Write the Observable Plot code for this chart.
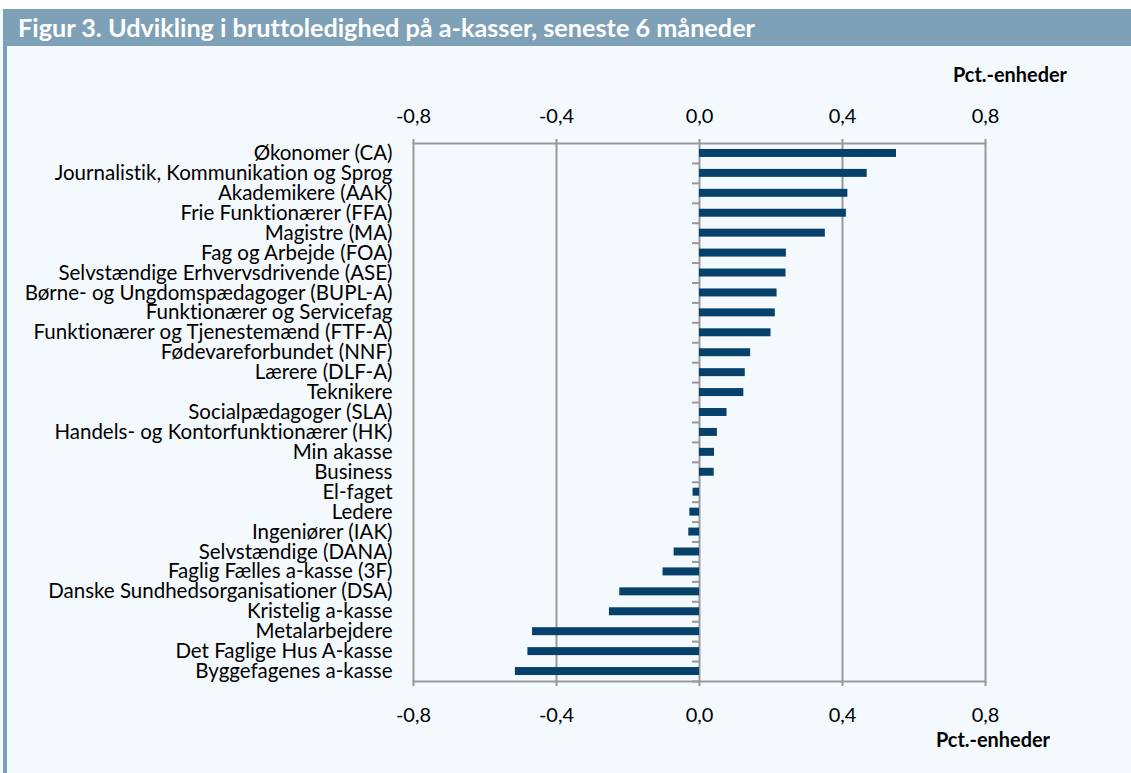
<!DOCTYPE html>
<html>
<head>
<meta charset="utf-8">
<script src="https://cdn.jsdelivr.net/npm/d3@7"></script>
<script src="https://cdn.jsdelivr.net/npm/@observablehq/plot@0.6"></script>
<style>
  html, body { margin: 0; padding: 0; }
  body { width: 1131px; height: 773px; position: relative; background: #F4F9FD; overflow: hidden; font-family: Lato, "Open Sans", sans-serif; font-variant-ligatures: none; }
  #topwhite { position: absolute; left: 0; top: 0; width: 1131px; height: 9px; background: #fff; }
  #titlebar { position: absolute; left: 3px; top: 9px; width: 1128px; height: 37px; background: #7EA1B7; }
  #title { position: absolute; left: 18px; top: 9px; height: 37px; line-height: 37px; color: #fff; font-weight: bold; font-size: 24px; white-space: nowrap; transform-origin: left center; }
  #leftbar { position: absolute; left: 3px; top: 9px; width: 4px; height: 764px; background: #7EA1B7; }
  #chart { position: absolute; left: 0; top: 0; }
  #chart svg text { font-variant-ligatures: none; }
  .unit { position: absolute; font-weight: bold; font-size: 20px; line-height: 20px; color: #000; white-space: nowrap; transform-origin: left center; }
</style>
</head>
<body>
<div id="topwhite"></div>
<div id="titlebar"></div>
<div id="leftbar"></div>
<div id="title">Figur 3. Udvikling i bruttoledighed på a-kasser, seneste 6 måneder</div>
<div id="chart"></div>
<div class="unit" id="unitTop" style="left:953px; top:64px;">Pct.-enheder</div>
<div class="unit" id="unitBottom" style="left:936px; top:729px;">Pct.-enheder</div>
<script>
const categories = [
  "Økonomer (CA)",
  "Journalistik, Kommunikation og Sprog",
  "Akademikere (AAK)",
  "Frie Funktionærer (FFA)",
  "Magistre (MA)",
  "Fag og Arbejde (FOA)",
  "Selvstændige Erhvervsdrivende (ASE)",
  "Børne- og Ungdomspædagoger (BUPL-A)",
  "Funktionærer og Servicefag",
  "Funktionærer og Tjenestemænd (FTF-A)",
  "Fødevareforbundet (NNF)",
  "Lærere (DLF-A)",
  "Teknikere",
  "Socialpædagoger (SLA)",
  "Handels- og Kontorfunktionærer (HK)",
  "Min akasse",
  "Business",
  "El-faget",
  "Ledere",
  "Ingeniører (IAK)",
  "Selvstændige (DANA)",
  "Faglig Fælles a-kasse (3F)",
  "Danske Sundhedsorganisationer (DSA)",
  "Kristelig a-kasse",
  "Metalarbejdere",
  "Det Faglige Hus A-kasse",
  "Byggefagenes a-kasse"
];
const values = [
  0.551, 0.469, 0.415, 0.411, 0.352, 0.243, 0.242, 0.217, 0.212, 0.200,
  0.143, 0.128, 0.124, 0.077, 0.050, 0.042, 0.041,
  -0.018, -0.027, -0.030, -0.071, -0.102, -0.223, -0.252, -0.467, -0.480, -0.515
];
const xTicks = [-0.8, -0.4, 0.0, 0.4, 0.8];
const gridValues = [-0.4, 0.0, 0.4];

const data = categories.map((name, i) => ({name, value: values[i]}));
const fmt = d => d.toFixed(1).replace(".", ",").replace("-0,0", "0,0");

const plot = Plot.plot({
  width: 1131,
  height: 773,
  marginTop: 143,
  marginBottom: 92,
  marginLeft: 413,
  marginRight: 146,
  style: {background: "transparent", fontFamily: "Lato, 'Open Sans', sans-serif", color: "#000"},
  x: {domain: [-0.8, 0.8]},
  y: {domain: categories, paddingInner: 0.6, paddingOuter: 0.3, round: false},
  marks: [
    Plot.ruleX(gridValues, {stroke: "#999", strokeWidth: 2}),
    Plot.frame({stroke: "#999", strokeWidth: 2}),
    Plot.barX(data, {x: "value", y: "name", fill: "#05416A"}),
    Plot.ruleY(categories, {y: d => d, x1: 0, x2: 0, insetLeft: -7, dy: 9.96, stroke: "#999", strokeWidth: 2}),
    Plot.axisX({anchor: "top", ticks: xTicks, tickFormat: fmt, tickSize: 5, tickPadding: 16, fontSize: 20, stroke: "#999", strokeWidth: 2, label: null}),
    Plot.axisX({anchor: "bottom", ticks: xTicks, tickFormat: fmt, tickSize: 5, tickPadding: 21, fontSize: 20, stroke: "#999", strokeWidth: 2, label: null}),
    Plot.axisY({tickSize: 0, tickPadding: 21, fontSize: 20.5, label: null})
  ]
});
document.getElementById("chart").appendChild(plot);

// fit text widths to reference
function fit(id, target) {
  const el = document.getElementById(id);
  const w = el.getBoundingClientRect().width;
  el.style.transform = `scaleX(${target / w})`;
}
fit("title", 737);
fit("unitTop", 114);
fit("unitBottom", 114);
</script>
</body>
</html>
